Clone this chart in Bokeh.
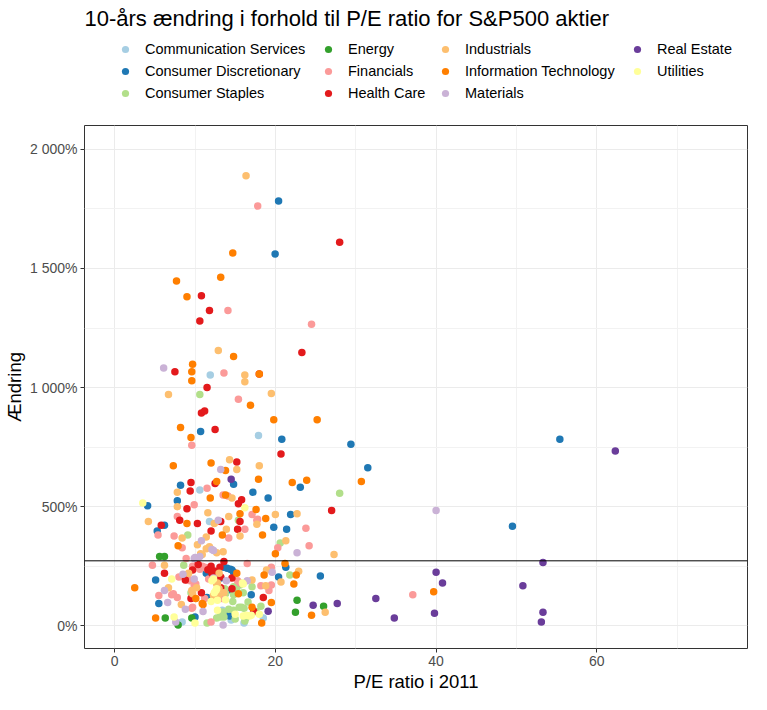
from bokeh.plotting import figure
from bokeh.models import Span, Legend, LegendItem, FixedTicker, Label
from bokeh.layouts import column
from bokeh.embed import file_html
from bokeh.resources import INLINE

# sectors and colours (ColorBrewer "Paired")
sectors = ["Communication Services", "Consumer Discretionary", "Consumer Staples",
           "Energy", "Financials", "Health Care", "Industrials",
           "Information Technology", "Materials", "Real Estate", "Utilities"]
colors = ["#A6CEE3", "#1F78B4", "#B2DF8A", "#33A02C", "#FB9A99", "#E31A1C",
          "#FDBF6F", "#FF7F00", "#CAB2D6", "#6A3D9A", "#FFFF99"]

# P/E 2011 and 10-year change (%), one pair of lists per sector
comm_pe = [11.9, 17.9, 10.6, 11.8, 8.4, 14.5, 16.1, 18.5, 13.4]
comm_chg = [1053, 799, 570, 438, 16, 25, 12, 33, 66]

disc_pe = [20.4, 19.97, 10.7, 20.8, 29.4, 31.5, 49.5, 55.4, 14.8, 23.1, 8.2, 17.2, 19.1,
           4.1, 7.8, 6.2, 5.3, 21.9, 19.8, 21.4, 5.1, 5.5, 10.0, 17.0, 20.4, 21.3, 25.6,
           11.5, 14.6, 14.3, 11.4, 13.6, 14.0, 14.4, 14.6, 14.8, 13.2, 14.2]
disc_chg = [1783, 1561, 816, 783, 762, 664, 418, 783, 594, 582, 590, 561, 537,
            504, 525, 422, 398, 467, 414, 406, 193, 94, 37, 131, 205, 246, 209,
            119, 148, 41, 221, 246, 242, 238, 234, 225, 201, 45]

stap_pe = [10.6, 28.0, 15.4, 9.1, 20.6, 8.6, 21.8, 18.2, 15.8, 16.1, 17.1, 14.8, 15.2,
           15.6, 16.0, 14.8, 13.7, 13.8, 14.7, 14.8, 15.5, 13.2, 13.6, 13.2, 12.7, 11.5,
           16.2, 15.0, 9.5, 13.5, 16.3, 14.2, 16.6, 17.6]
stap_chg = [971, 557, 443, 381, 348, 254, 213, 82, 78, 74, 164, 164, 160,
            172, 139, 131, 156, 135, 102, 66, 78, 37, 37, 53, 33, 12,
            20, 29, 139, 58, 31, 70, 100, 60]

ener_pe = [5.6, 6.2, 6.3, 7.9, 9.6, 22.7, 22.5, 26.0]
ener_chg = [291, 291, 33, 4, 33, 107, 57, 82]

fin_pe = [17.8, 14.1, 24.5, 13.6, 15.4, 9.6, 11.5, 13.5, 14.1, 9.9, 7.8, 17.1, 17.8,
          17.7, 23.8, 16.2, 14.2, 7.4, 5.4, 8.4, 20.3, 24.2, 37.1, 4.7, 5.5, 7.1, 7.8,
          9.6, 12.0, 18.2, 19.1, 19.5, 19.2, 19.5, 16.5, 8.9, 10.3, 9.0, 10.1, 9.7,
          10.1, 9.1, 9.4, 9.9, 10.9, 11.4, 11.8, 12.0, 11.2, 13.4, 15.3, 15.6, 11.2,
          7.3, 9.7, 13.3, 10.6, 11.7, 8.0]
fin_chg = [1762, 1324, 1266, 1061, 951, 758, 578, 549, 545, 508, 459, 467, 447,
           443, 410, 406, 369, 377, 381, 328, 328, 336, 131, 254, 127, 131, 119,
           74, 16, 168, 164, 172, 148, 246, 262, 283, 258, 193, 176, 250,
           250, 217, 189, 170, 250, 242, 242, 197, 115, 115, 189, 180, 246,
           135, 78, 119, 238, 197, 205]

hc_pe = [28.0, 10.8, 11.8, 10.6, 23.3, 7.5, 18.0, 11.5, 10.8, 11.2, 12.5, 20.7, 15.2,
         12.5, 9.5, 9.4, 15.4, 15.8, 9.0, 27.0, 5.8, 8.1, 10.3, 13.2, 12.0, 15.6, 15.3,
         6.2, 10.4, 9.7, 8.8, 10.8, 9.5, 13.2, 14.6, 12.1, 12.8, 12.0, 13.1, 13.6, 14.6,
         18.5, 17.3, 13.2, 11.6, 12.4]
hc_chg = [1610, 1385, 1324, 1279, 1147, 1066, 1057, 1000, 893, 902, 824, 721, 688,
          598, 602, 566, 512, 529, 492, 484, 422, 443, 430, 438, 398, 438, 406,
          221, 258, 234, 193, 139, 115, 160, 156, 221, 209, 250, 246, 270, 201,
          119, 61, 205, 235, 230]

ind_pe = [16.35, 12.9, 16.2, 16.2, 6.7, 19.5, 14.3, 15.2, 18.0, 14.6, 7.8, 7.8, 4.2,
          11.6, 12.4, 14.2, 20.0, 22.7, 17.7, 13.9, 15.6, 8.4, 11.4, 21.3, 27.3, 10.3,
          11.4, 13.5, 6.2, 6.7, 8.3, 9.2, 9.6, 12.3, 12.9, 13.6, 17.1, 18.8, 18.9, 20.7,
          22.9, 26.2, 12.7, 13.0, 9.7, 11.8, 12.7, 10.9, 10.7, 12.8, 13.0, 10.2]
ind_chg = [1889, 1156, 1053, 1025, 971, 975, 697, 656, 672, 537, 561, 500, 438,
           475, 430, 459, 467, 471, 426, 406, 377, 369, 373, 357, 299, 340,
           324, 311, 254, 160, 90, 221, 148, 127, 127, 139, 193, 168, 234, 184,
           229, 57, 176, 156, 135, 332, 307, 299, 303, 180, 221, 160]

it_pe = [14.7, 7.7, 13.2, 9.0, 14.8, 9.7, 9.6, 9.6, 18.0, 16.9, 8.2, 19.8, 25.2, 9.5,
         30.7, 7.3, 12.0, 13.8, 17.9, 12.7, 22.1, 23.9, 11.9, 13.8, 17.6, 9.0, 15.6,
         18.8, 13.4, 18.4, 20.0, 7.9, 39.7, 2.5, 5.1, 10.1, 11.0, 15.4, 17.1, 18.3,
         19.5, 18.6, 21.2, 22.6, 22.3, 24.5, 15.2, 10.9]
it_chg = [1565, 1447, 1463, 1381, 1131, 1098, 1066, 1029, 1057, 926, 832, 865, 865, 791,
          606, 672, 684, 652, 615, 606, 602, 611, 537, 549, 488, 430, 471,
          451, 381, 381, 303, 336, 143, 160, 33, 115, 90, 135, 78, 12,
          98, 213, 262, 213, 176, 45, 221, 94]

mat_pe = [6.1, 13.2, 12.9, 10.8, 22.7, 12.3, 40.0, 6.2, 6.6, 7.6, 8.8, 13.5, 19.6,
          9.9, 9.9, 12.3, 13.9, 16.5, 8.5, 10.0, 10.6, 12.1, 11.0]
mat_chg = [1082, 656, 443, 357, 307, 316, 484, 148, 98, 16, 70, 4, 225,
           283, 197, 201, 189, 189, 217, 287, 291, 320, 60]

re_pe = [62.3, 14.5, 53.3, 40.0, 40.8, 50.8, 53.3, 53.1, 32.5, 34.8, 39.8, 27.7, 24.7, 19.1]
re_chg = [734, 615, 266, 225, 180, 168, 57, 16, 115, 33, 53, 94, 86, 61]

util_pe = [3.5, 16.2, 7.1, 7.4, 10.0, 17.0, 18.0, 12.0, 12.4, 12.7, 12.8, 15.0, 16.0,
           16.4, 16.8, 15.9, 16.0, 12.1, 12.3, 12.6, 12.8, 13.8]
util_chg = [516, 496, 197, 37, 12, 45, 49, 102, 139, 156, 66, 49, 41,
            45, 41, 180, 176, 189, 197, 148, 107, 110]

mean_change = 273

series = [(comm_pe, comm_chg), (disc_pe, disc_chg), (stap_pe, stap_chg),
          (ener_pe, ener_chg), (fin_pe, fin_chg), (hc_pe, hc_chg),
          (ind_pe, ind_chg), (it_pe, it_chg), (mat_pe, mat_chg),
          (re_pe, re_chg), (util_pe, util_chg)]

FONT = "Liberation Sans"
W, HEAD_H, MAIN_H = 751, 110, 584
LEFT = 84   # shared left border of both figures (the column lines the frames up)

# ---- header: title + legend (legend sits above the panel, like ggplot's "top")
# the key renderers re-use the sector data but the header's range keeps them out of sight
head = figure(width=W, height=HEAD_H, x_range=(-2, -1), y_range=(-2, -1),
              x_axis_type=None, y_axis_type=None, output_backend="svg",
              toolbar_location=None, min_border=0, min_border_left=LEFT,
              min_border_right=4, outline_line_color=None)

key_renderers = []
for col, (xs, ys) in zip(colors, series):
    key_renderers.append(head.scatter(xs, ys, size=7.5, fill_color=col, line_color=None))

head.add_layout(Label(x=0, y=HEAD_H - 18, x_units="screen", y_units="screen",
                      text="10-års ændring i forhold til P/E ratio for S&P500 aktier",
                      text_font=FONT, text_font_size="22px", text_color="black",
                      text_baseline="middle"))

# 4 legend columns, filled top-down
legend_cols = [[0, 1, 2], [3, 4, 5], [6, 7, 8], [9, 10]]
col_left = [116, 319, 436, 628]
for idx, left in zip(legend_cols, col_left):
    items = [LegendItem(label=sectors[i], renderers=[key_renderers[i]]) for i in idx]
    bottom = 8 if len(idx) == 3 else 30
    head.add_layout(Legend(items=items, location=(left - LEFT, bottom), orientation="vertical",
                           border_line_color=None, background_fill_alpha=0,
                           label_text_font=FONT, label_text_font_size="14.5px",
                           label_text_color="black",
                           glyph_width=18, glyph_height=18, label_standoff=11,
                           label_height=17, spacing=4, padding=0, margin=0))

# ---- main scatter panel
p = figure(width=W, height=MAIN_H, x_range=(-3.75, 78.75), y_range=(-95, 2100),
           output_backend="svg", toolbar_location=None,
           min_border_left=LEFT, min_border_right=4, min_border_top=15, min_border_bottom=46)

for col, (xs, ys) in zip(colors, series):
    p.scatter(xs, ys, size=7.5, fill_color=col, line_color=None)

p.add_layout(Span(location=mean_change, dimension="width", line_color="black", line_width=1))

p.xaxis.ticker = FixedTicker(ticks=[0, 20, 40, 60], minor_ticks=[10, 30, 50, 70])
p.yaxis.ticker = FixedTicker(ticks=[0, 500, 1000, 1500, 2000],
                             minor_ticks=[250, 750, 1250, 1750])
p.yaxis.major_label_overrides = {0: "0%", 500: "500%", 1000: "1 000%",
                                 1500: "1 500%", 2000: "2 000%"}
p.xaxis.axis_label = "P/E ratio i 2011"
p.yaxis.axis_label = "Ændring"
for ax in p.axis:
    ax.axis_line_color = None
    ax.major_tick_line_color = "#333333"
    ax.major_tick_in = 0
    ax.major_tick_out = 4
    ax.minor_tick_line_color = None
    ax.major_label_text_font = FONT
    ax.major_label_text_font_size = "14px"
    ax.major_label_text_color = "#4D4D4D"
    ax.major_label_standoff = 3
    ax.axis_label_text_font = FONT
    ax.axis_label_text_font_size = "18.5px"
    ax.axis_label_text_font_style = "normal"
    ax.axis_label_text_color = "black"
    ax.axis_label_standoff = 2

p.grid.grid_line_color = "#EBEBEB"
p.grid.minor_grid_line_color = "#F2F2F2"
p.outline_line_color = "#333333"
p.outline_line_width = 1

open("out.html", "w").write(file_html(column(head, p), INLINE))
